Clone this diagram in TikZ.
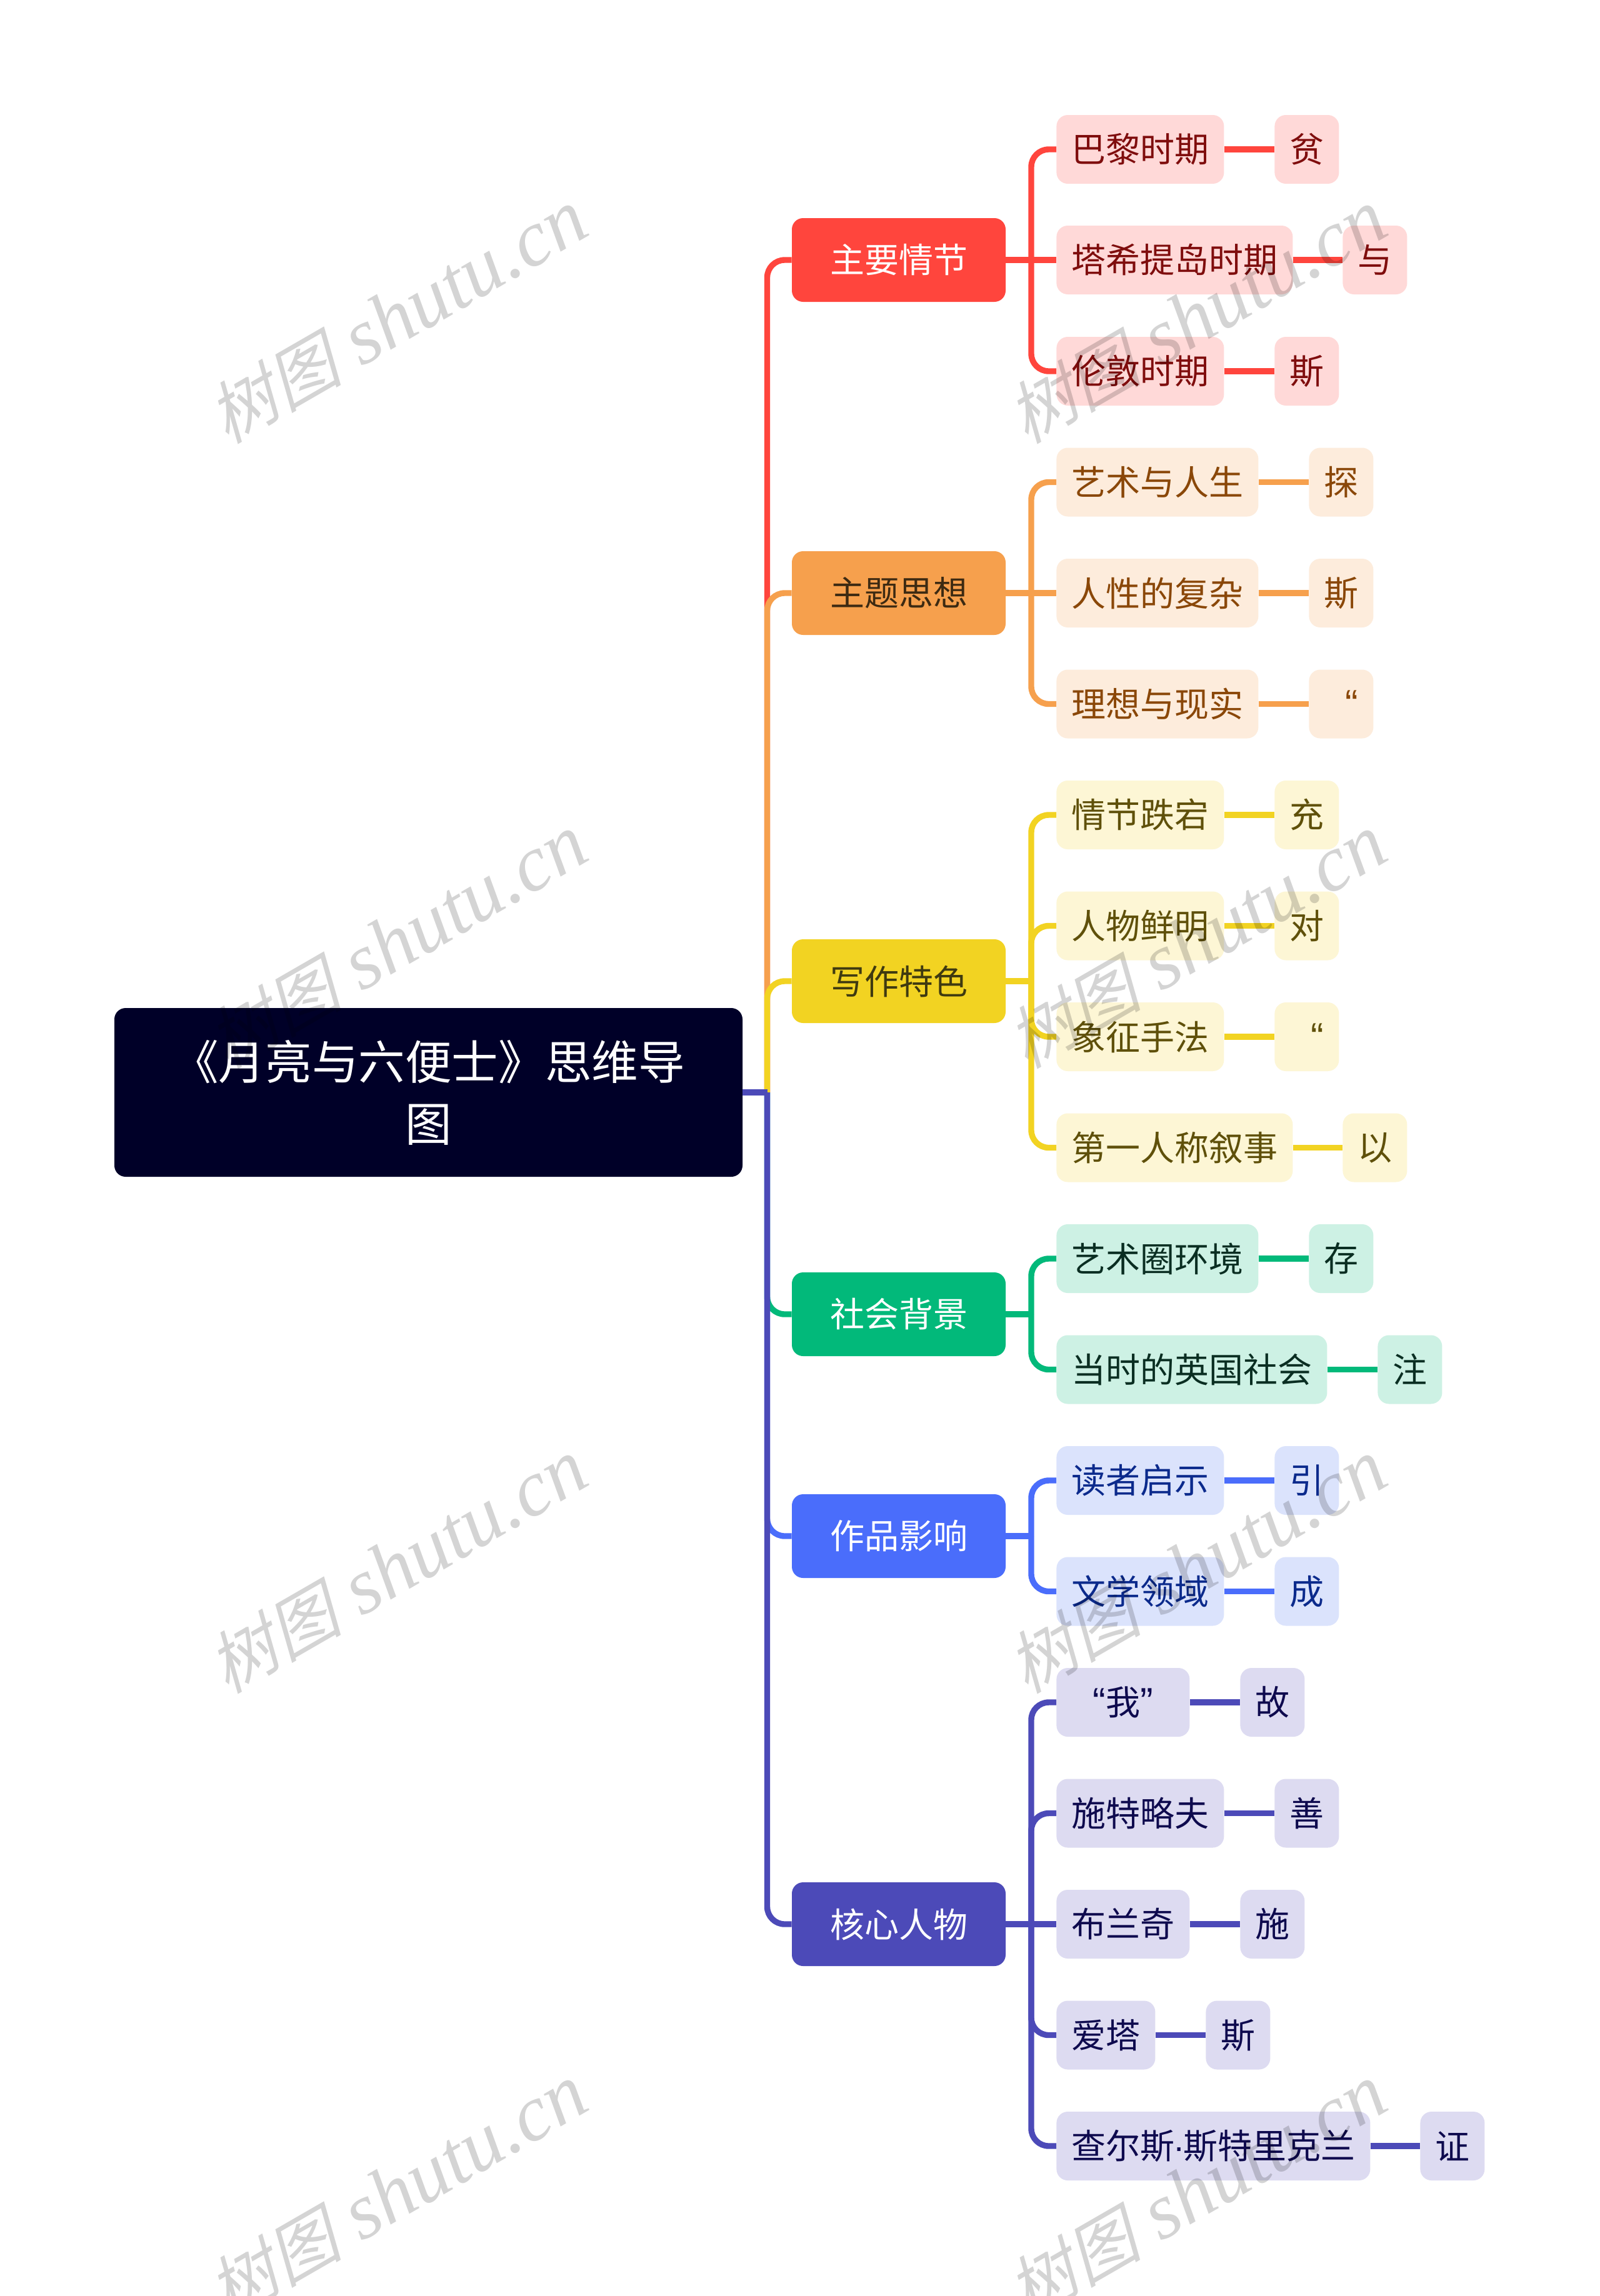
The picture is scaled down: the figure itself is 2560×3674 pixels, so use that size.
\documentclass[tikz,border=0pt]{standalone}
\usepackage{fontspec}
\setmainfont{Noto Sans CJK SC}
\newfontfamily\wmcjk[FakeSlant=0.25]{Noto Sans CJK SC}
\newfontfamily\wmlat{Liberation Serif Italic}
\newfontfamily\libsans{Liberation Sans}
\definecolor{rootc}{HTML}{000028}
\definecolor{cR}{HTML}{FF453D}\definecolor{fR}{HTML}{FFD9D8}\definecolor{tR}{HTML}{7F0D0D}
\definecolor{cO}{HTML}{F6A04D}\definecolor{fO}{HTML}{FDECDC}\definecolor{tO}{HTML}{8A4708}\definecolor{hO}{HTML}{3D2A12}
\definecolor{cY}{HTML}{F2D322}\definecolor{fY}{HTML}{FDF6D5}\definecolor{tY}{HTML}{5F500A}\definecolor{hY}{HTML}{3F3A10}
\definecolor{cG}{HTML}{02B97A}\definecolor{fG}{HTML}{CDF1E4}\definecolor{tG}{HTML}{0A2E22}
\definecolor{cB}{HTML}{4A6DFB}\definecolor{fB}{HTML}{DBE3FC}\definecolor{tB}{HTML}{0B2A8C}
\definecolor{cI}{HTML}{4C4AB8}\definecolor{fI}{HTML}{DDDBF1}\definecolor{tI}{HTML}{0E0A4E}
\tikzset{
 rootbox/.style={draw=none,fill=rootc,text=white,rounded corners=9pt,minimum width=502.5pt,minimum height=135pt,inner sep=0pt,align=center,font=\fontsize{37.3pt}{49.5pt}\selectfont},
 headbox/.style={draw=none,rounded corners=9pt,minimum width=171pt,minimum height=67pt,inner sep=0pt,font=\fontsize{27.5pt}{33pt}\selectfont},
 leafbox/.style={draw=none,rounded corners=9pt,anchor=west,minimum height=55pt,inner xsep=12pt,inner ysep=0pt,font=\fontsize{27.5pt}{33pt}\selectfont},
 plainlink/.style={line width=4.7pt},
 link/.style={line width=4.7pt,rounded corners=14pt},
 wmark/.style={rotate=30,anchor=west,text=black,opacity=.17,inner sep=0pt}
}
\newcommand{\wm}[2]{\node[wmark] (#1) at (#2) {{\wmcjk\fontsize{54pt}{60pt}\selectfont 树图}{\wmlat\fontsize{63.5pt}{60pt}\selectfont\ shutu.cn}};}
\newcommand{\qopen}{\makebox[27.5pt][r]{\libsans\fontsize{31pt}{33pt}\selectfont “}}
\newcommand{\qclose}{\makebox[27.5pt][l]{\libsans\fontsize{31pt}{33pt}\selectfont ”}}
\newcommand{\qdot}{\makebox[7pt][c]{\libsans ·}}
\begin{document}
\begin{tikzpicture}[x=.5pt,y=-.5pt]
\useasboundingbox (0,0) rectangle (2560,3674);
\fill[white] (0,0) rectangle (2560,3674);
% head nodes
\node[rootbox] (root) at (685.5,1748) {《月亮与六便士》思维导\\图};
\node[headbox,fill=cR,text=white] (h1) at (1438,416) {主要情节};
\node[headbox,fill=cO,text=hO] (h2) at (1438,949) {主题思想};
\node[headbox,fill=cY,text=hY] (h3) at (1438,1570) {写作特色};
\node[headbox,fill=cG,text=white] (h4) at (1438,2103) {社会背景};
\node[headbox,fill=cB,text=white] (h5) at (1438,2458) {作品影响};
\node[headbox,fill=cI,text=white] (h6) at (1438,3079) {核心人物};
\coordinate (tj) at (1227.5,1748);
% trunk connectors (later branches on top)
\foreach \h/\c in {h1/cR,h2/cO,h3/cY,h4/cG,h5/cB,h6/cI}{
  \draw[link,draw=\c] (tj) -- (tj |- \h.west) -- (\h.west);
}
\draw[plainlink,draw=cI] (root.east) -- (tj);
% leaf nodes
\foreach \n/\y/\x/\t/\f/\c/\k/\kx/\kt in {
 a/239/1690/巴黎时期/fR/tR/cR/2039/贫,
 b/416/1690/塔希提岛时期/fR/tR/cR/2148/与,
 c/594/1690/伦敦时期/fR/tR/cR/2039/斯,
 d/771.5/1690/艺术与人生/fO/tO/cO/2094/探,
 e/949/1690/人性的复杂/fO/tO/cO/2094/斯,
 f/1126.5/1690/理想与现实/fO/tO/cO/2094/\qopen,
 g/1304/1690/情节跌宕/fY/tY/cY/2039/充,
 h/1481.5/1690/人物鲜明/fY/tY/cY/2039/对,
 i/1659/1690/象征手法/fY/tY/cY/2039/\qopen,
 j/1836.5/1690/第一人称叙事/fY/tY/cY/2148/以,
 k/2014/1690/艺术圈环境/fG/tG/cG/2094/存,
 l/2191.5/1690/当时的英国社会/fG/tG/cG/2204/注,
 m/2369/1690/读者启示/fB/tB/cB/2039/引,
 n/2546.5/1690/文学领域/fB/tB/cB/2039/成,
 o/2724/1690/\qopen 我\qclose/fI/tI/cI/1984/故,
 p/2901.5/1690/施特略夫/fI/tI/cI/2039/善,
 q/3079/1690/布兰奇/fI/tI/cI/1984/施,
 r/3256.5/1690/爱塔/fI/tI/cI/1929/斯,
 s/3434/1690/查尔斯\qdot 斯特里克兰/fI/tI/cI/2272/证}{
  \node[leafbox,fill=\f,text=\c] (\n) at (\x,\y) {\t};
  \node[leafbox,fill=\f,text=\c] (\n x) at (\kx,\y) {\kt};
  \draw[plainlink,draw=\k] (\n.east) -- (\n x.west);
}
% stubs and straight children
\foreach \h/\n/\c in {h1/b/cR,h2/e/cO,h6/q/cI}{
  \draw[plainlink,draw=\c] (\h.east) -- (\n.west);
}
\foreach \h/\c in {h3/cY,h4/cG,h5/cB}{
  \draw[plainlink,draw=\c] (\h.east) -- (1650,0 |- \h.east);
}
% curved children
\foreach \h/\n/\c in {h1/a/cR,h1/c/cR,h2/d/cO,h2/f/cO,h3/g/cY,h3/h/cY,h3/i/cY,h3/j/cY,h4/k/cG,h4/l/cG,h5/m/cB,h5/n/cB,h6/o/cI,h6/p/cI,h6/r/cI,h6/s/cI}{
  \draw[link,draw=\c] (1650,0 |- \h.east) -- (1650,0 |- \n.west) -- (\n.west);
}
% watermarks
\foreach \col/\wx in {A/343,B/1622}{
  \foreach \row/\wy in {1/676,2/1676,3/2676,4/3676}{
    \wm{w\col\row}{\wx,\wy}
  }
}
\end{tikzpicture}
\end{document}
